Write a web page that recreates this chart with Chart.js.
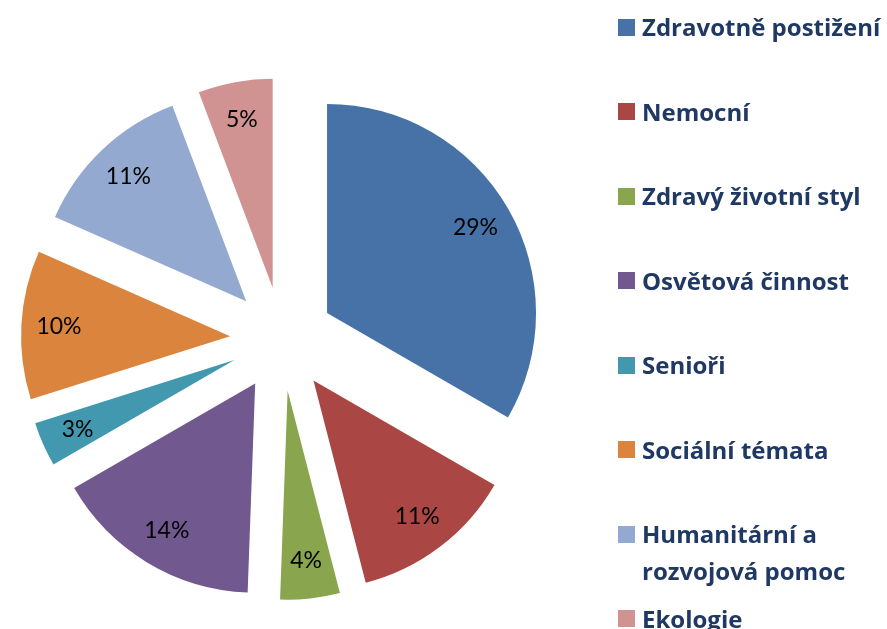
<!DOCTYPE html>
<html>
<head>
<meta charset="utf-8">
<script src="https://cdn.jsdelivr.net/npm/chart.js@4/dist/chart.umd.min.js"></script>
<style>
    html, body { margin: 0; padding: 0; background: #fff; }
    #wrap { position: relative; width: 887px; height: 629px; overflow: hidden; }
    #pie { position: absolute; left: 0; top: 0; }
    #legend { position: absolute; left: 618px; top: 0; font-family: "Open Sans", sans-serif; font-weight: 700; font-size: 24px; color: #1F3864; }
    .item { position: absolute; left: 0; }
    .box { position: absolute; left: 0; width: 17px; height: 17px; }
    .txt { position: absolute; left: 24px; width: 252px; line-height: 37px; }
</style>
</head>
<body>
<div id="wrap">
    <canvas id="pie" width="887" height="629"></canvas>
    <div id="legend"></div>
</div>
<script>
// chart data
const categories = [
    'Zdravotně postižení',
    'Nemocní',
    'Zdravý životní styl',
    'Osvětová činnost',
    'Senioři',
    'Sociální témata',
    'Humanitární a rozvojová pomoc',
    'Ekologie'
];
const shares = [29, 11, 4, 14, 3, 10, 11, 5];
const sliceColors = ['#4672A8', '#AA4643', '#89A54E', '#71588F', '#4198AF', '#DB843D', '#93A9CF', '#D19392'];

const EXPLODE = 52; // distance every slice is pulled out from the centre

// pull each arc out along its middle angle (like Excel's exploded pie)
const explodePlugin = {
    id: 'explode',
    afterDatasetUpdate(chart, args) {
        args.meta.data.forEach(arc => {
            if (arc._exploded) return;
            arc._exploded = true;
            const baseDraw = arc.draw;
            arc.draw = function (ctx, area) {
                const mid = (this.startAngle + this.endAngle) / 2;
                ctx.save();
                ctx.translate(Math.cos(mid) * EXPLODE, Math.sin(mid) * EXPLODE);
                baseDraw.call(this, ctx, area);
                ctx.restore();
            };
        });
    }
};

// percentage labels inside the slices
const labelPlugin = {
    id: 'sliceLabels',
    afterDatasetsDraw(chart) {
        const ctx = chart.ctx;
        ctx.save();
        ctx.font = '23px Lato, sans-serif';
        ctx.fillStyle = '#000';
        ctx.textAlign = 'center';
        ctx.textBaseline = 'middle';
        chart.getDatasetMeta(0).data.forEach((arc, i) => {
            const mid = (arc.startAngle + arc.endAngle) / 2;
            const r = EXPLODE + arc.outerRadius * 0.82;
            ctx.fillText(shares[i] + '%', arc.x + Math.cos(mid) * r, arc.y + Math.sin(mid) * r);
        });
        ctx.restore();
    }
};

new Chart(document.querySelector('#pie'), {
    type: 'pie',
    data: {
        labels: categories,
        datasets: [{
            data: shares,
            backgroundColor: sliceColors,
            borderWidth: 0,
            clip: false
        }]
    },
    options: {
        responsive: false,
        animation: false,
        events: [],
        layout: { padding: { left: 73, top: 130, right: 396, bottom: 81 } },
        plugins: {
            legend: { display: false },
            tooltip: { enabled: false }
        }
    },
    plugins: [explodePlugin, labelPlugin]
});

// legend on the right, fixed row spacing
const $legend = document.querySelector('#legend');
categories.forEach((name, i) => {
    const cy = 27 + i * 84.5;
    const item = document.createElement('div');
    item.className = 'item';
    item.style.top = cy + 'px';
    item.innerHTML = '<div class="box" style="top:-8.5px;background:' + sliceColors[i] + '"></div>' +
        '<div class="txt" style="top:-19px">' + name + '</div>';
    $legend.appendChild(item);
});
</script>
</body>
</html>
